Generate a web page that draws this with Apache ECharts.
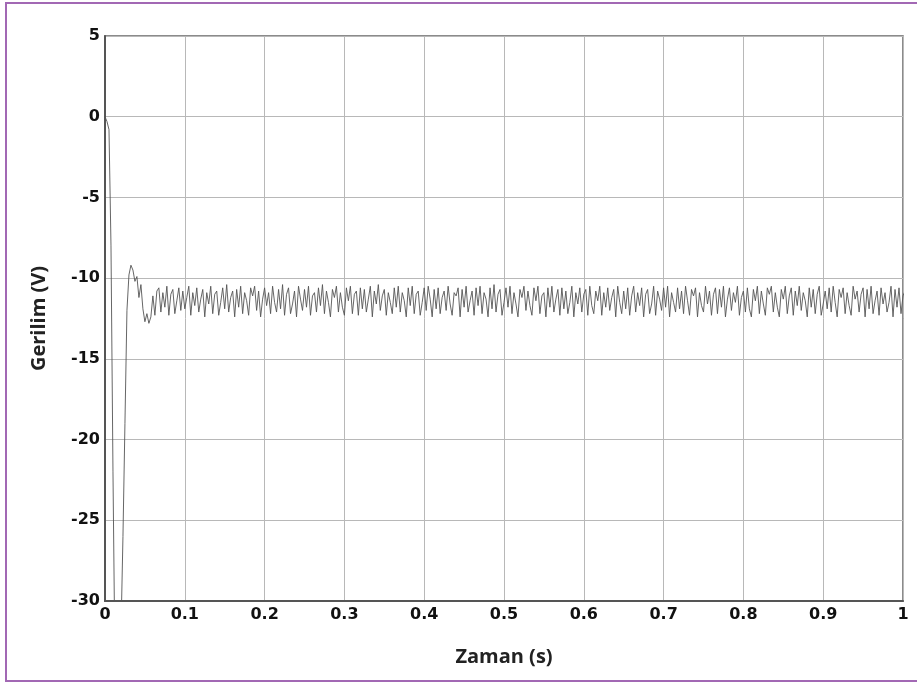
<!DOCTYPE html>
<html>
<head>
<meta charset="utf-8">
<script src="https://cdn.jsdelivr.net/npm/echarts@6/dist/echarts.min.js"></script>
<style>html,body{margin:0;padding:0;background:#fff}#c{width:917px;height:682px}</style>
</head>
<body>
<div id="c"></div>
<script>
// Sampling step of the trace (s)
const dt = 0.0025;
// Start-up transient (V)
const transient = [0,-0.3,-0.8,-8,-22,-34,-36,-36,-32,-26,-19,-12,-9.8,-9.2,-9.5,-10.2,-9.9,-11.2,-10.4,-11.9,-12.7,-12.2,-12.8,-12.4,-11.1,-12.3,-10.8];
// Steady-state ripple (V)
const ripple = [
-10.6,-12.1,-10.9,-11.8,-10.5,-12.3,-11.0,-10.7,-12.2,-11.4,-10.6,-12.0,-10.8,-11.9,-11.2,-10.5,-12.3,-10.9,-11.7,-10.6,
-12.1,-11.3,-10.7,-12.4,-10.9,-11.6,-10.5,-12.2,-11.0,-10.8,-12.3,-11.5,-10.6,-11.9,-10.4,-12.1,-11.2,-10.8,-12.4,-10.7,
-11.8,-10.5,-12.2,-10.9,-11.4,-12.3,-10.6,-11.1,-10.5,-12.0,-10.8,-12.4,-11.3,-10.6,-11.7,-10.9,-12.2,-10.5,-11.5,-12.1,
-10.7,-11.9,-10.4,-12.3,-11.0,-10.6,-12.2,-11.6,-10.8,-12.4,-10.5,-11.3,-12.0,-10.7,-11.8,-10.5,-12.3,-11.1,-10.9,-12.1,
-10.6,-11.7,-10.4,-12.2,-10.8,-11.5,-12.4,-10.7,-11.2,-10.5,-12.1,-10.9,-11.8,-12.3,-10.6,-11.4,-10.5,-12.2,-11.0,-10.8,
-12.3,-10.6,-11.9,-10.7,-12.1,-11.3,-10.5,-12.4,-10.8,-11.6,-10.4,-12.0,-11.1,-10.7,-12.3,-10.9,-11.5,-12.2,-10.6,-11.8,
-10.5,-12.1,-10.9,-11.4,-12.4,-10.6,-11.7,-10.5,-12.2,-11.0,-10.8,-12.3,-11.5,-10.6,-12.0,-10.5,-11.3,-12.4,-10.7,-11.9,
-10.6,-12.2,-11.2,-10.8,-12.0,-10.5,-11.6,-12.3,-10.9,-11.1,-10.6,-12.4,-10.7,-11.8,-10.5,-12.1,-11.4,-10.8,-12.3,-10.6,
-11.7,-10.5,-12.2,-10.9,-11.3,-12.4,-10.6,-11.9,-10.4,-12.1,-11.0,-10.7,-12.3,-11.5,-10.6,-11.8,-10.5,-12.2,-10.9,-11.6,
-12.4,-10.7,-11.2,-10.5,-12.0,-10.8,-11.7,-12.3,-10.6,-11.4,-10.5,-12.2,-11.1,-10.9,-12.4,-10.6,-11.8,-10.5,-12.1,-11.3,
-10.7,-12.3,-10.6,-11.9,-10.8,-12.2,-11.5,-10.5,-12.4,-10.9,-11.6,-10.6,-12.1,-11.0,-10.7,-12.3,-10.5,-11.7,-12.2,-10.8,
-11.4,-10.5,-12.3,-10.9,-11.8,-10.6,-12.0,-11.2,-10.7,-12.4,-10.5,-11.5,-12.2,-10.8,-11.9,-10.6,-12.3,-11.1,-10.5,-12.1,
-10.9,-11.7,-10.6,-12.4,-11.0,-10.7,-12.2,-11.6,-10.5,-12.3,-10.8,-11.3,-12.0,-10.6,-11.8,-10.5,-12.4,-10.9,-11.5,-12.1,
-10.6,-11.9,-10.8,-12.2,-10.5,-11.4,-12.3,-10.7,-11.1,-10.6,-12.4,-10.9,-11.7,-12.1,-10.5,-11.6,-10.8,-12.3,-11.0,-10.6,
-12.2,-10.7,-11.8,-10.5,-12.4,-11.3,-10.6,-12.0,-10.9,-11.5,-10.5,-12.3,-11.2,-10.8,-12.1,-10.6,-11.9,-12.4,-10.7,-11.4,
-10.5,-12.2,-10.8,-11.6,-12.3,-10.6,-11.0,-10.5,-12.1,-10.9,-11.8,-12.4,-10.7,-11.3,-10.5,-12.2,-11.1,-10.6,-12.3,-10.8,
-11.7,-10.5,-12.0,-10.9,-11.4,-12.4,-10.6,-11.8,-10.7,-12.2,-11.0,-10.5,-12.3,-11.6,-10.8,-11.9,-10.6,-12.1,-10.5,-11.5,
-12.4,-10.7,-11.2,-10.6,-12.2,-10.9,-11.7,-12.3,-10.5,-11.3,-10.8,-12.1,-11.0,-10.6,-12.4,-10.7,-11.9,-10.5,-12.2,-11.4,
-10.8,-12.3,-10.6,-11.6,-10.9,-12.1,-11.5,-10.5,-12.4,-10.7,-11.8,-10.6,-12.2,-11.1,-10.8,-12.3,-10.5,-11.7,-12.0,-10.9
];
const xTicks = {min:0, max:1, interval:0.1};
const yTicks = {min:-30, max:5, interval:5};

const values = transient.concat(ripple);
const data = values.map((v,i)=>[+(i*dt).toFixed(4), v]);

const chart = echarts.init(document.getElementById('c'));
const labelFont = {fontFamily:'DejaVu Sans, sans-serif', fontWeight:'bold', fontSize:16, color:'#111'};
const nameFont = {fontFamily:'Open Sans, sans-serif', fontWeight:'bold', fontSize:20, color:'#222'};
chart.setOption({
  animation:false,
  backgroundColor:'#fff',
  graphic:[{type:'rect', shape:{x:6,y:3,width:930,height:678}, style:{fill:'none', stroke:'#a268b4', lineWidth:2}, silent:true}],
  grid:{left:105, right:14, top:36, bottom:81, show:true, borderColor:'#666', borderWidth:1.5},
  xAxis:{type:'value', min:xTicks.min, max:xTicks.max, interval:xTicks.interval,
    name:'Zaman (s)', nameLocation:'middle', nameGap:46, nameTextStyle:nameFont,
    axisLine:{show:true, onZero:false, lineStyle:{color:'#555', width:2}},
    axisTick:{show:false},
    axisLabel:Object.assign({margin:6, formatter:v=>String(+v.toFixed(1))}, labelFont),
    splitLine:{show:true, lineStyle:{color:'#b8b8b8', width:1}}},
  yAxis:{type:'value', min:yTicks.min, max:yTicks.max, interval:yTicks.interval,
    name:'Gerilim (V)', nameLocation:'middle', nameGap:56, nameRotate:90, nameTextStyle:nameFont,
    axisLine:{show:true, onZero:false, lineStyle:{color:'#555', width:2}},
    axisTick:{show:false},
    axisLabel:Object.assign({margin:5}, labelFont),
    splitLine:{show:true, lineStyle:{color:'#b8b8b8', width:1}}},
  series:[{type:'line', data:data, showSymbol:false, clip:true,
    lineStyle:{color:'#555', width:0.9}}]
});
</script>
</body>
</html>
